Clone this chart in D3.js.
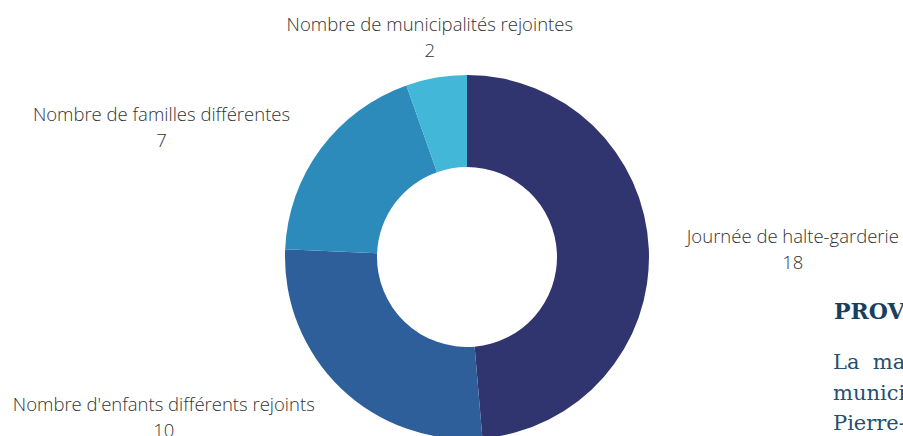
<!DOCTYPE html>
<html>
<head>
<meta charset="utf-8">
<script src="https://cdn.jsdelivr.net/npm/d3@7"></script>
<style>
    body { margin: 0; background: #fff; overflow: hidden; }
    svg { display: block; }
</style>
</head>
<body>
<svg id="chart" width="903" height="436"></svg>
<script>
// Chart data
const categories = [
    'Journée de halte-garderie',
    "Nombre d'enfants différents rejoints",
    'Nombre de familles différentes',
    'Nombre de municipalités rejointes'
];
const values = [18, 10, 7, 2];
const colors = ['#31356f', '#2e5f9a', '#2d8bbb', '#42b7d7'];

// Side text (cut off by the page edge)
const headingText = 'PROVENANCE';
const paragraphLines = ['La  majorité', 'municipalités', 'Pierre-De Saurel'];

const svg = d3.select('#chart');
const cx = 467, cy = 257;
const outerRadius = 182, innerRadius = 90, labelRadius = 220;

const data = categories.map((name, i) => ({ name, value: values[i], color: colors[i] }));

const pie = d3.pie()
    .value(d => d.value)
    .sort(null);

const arc = d3.arc()
    .innerRadius(innerRadius)
    .outerRadius(outerRadius);

const labelArc = d3.arc()
    .innerRadius(labelRadius)
    .outerRadius(labelRadius);

const g = svg.append('g')
    .attr('transform', `translate(${cx},${cy})`);

const arcs = pie(data);

g.selectAll('path')
    .data(arcs)
    .enter()
    .append('path')
    .attr('d', arc)
    .attr('fill', d => d.data.color);

// Labels: two lines, centered on each other, box anchored at the label point
arcs.forEach(d => {
    const [lx, ly] = labelArc.centroid(d);
    const mid = (d.startAngle + d.endAngle) / 2;
    const side = Math.sin(mid);
    // top labels sit a little higher
    const lift = Math.abs(side) < 0.3 ? 4 : 0;

    const label = g.append('g');
    const nameEl = label.append('text')
        .attr('text-anchor', 'middle')
        .attr('y', ly - 5 - lift)
        .text(d.data.name);
    const valueEl = label.append('text')
        .attr('text-anchor', 'middle')
        .attr('y', ly + 21 - lift)
        .text(d.data.value);

    label.selectAll('text')
        .style('font-family', '"Open Sans", sans-serif')
        .style('font-weight', 300)
        .style('font-size', '18.5px')
        .style('fill', '#333');

    const w = Math.max(nameEl.node().getComputedTextLength(), valueEl.node().getComputedTextLength());
    let centerX = lx;
    if (side > 0.3) centerX = lx + w / 2;
    else if (side < -0.3) centerX = lx - w / 2;
    label.selectAll('text').attr('x', centerX);
});

// Heading and paragraph on the right side
svg.append('text')
    .attr('x', 834)
    .attr('y', 319)
    .text(headingText)
    .style('font-family', '"DejaVu Serif", serif')
    .style('font-weight', 'bold')
    .style('font-size', '22px')
    .style('fill', '#173f60');

svg.selectAll('.para')
    .data(paragraphLines)
    .enter()
    .append('text')
    .attr('class', 'para')
    .attr('x', 833)
    .attr('y', (d, i) => 369 + i * 30.5)
    .style('white-space', 'pre')
    .text(d => d)
    .style('font-family', '"DejaVu Serif", serif')
    .style('font-size', '21px')
    .style('fill', '#244e72');
</script>
</body>
</html>
